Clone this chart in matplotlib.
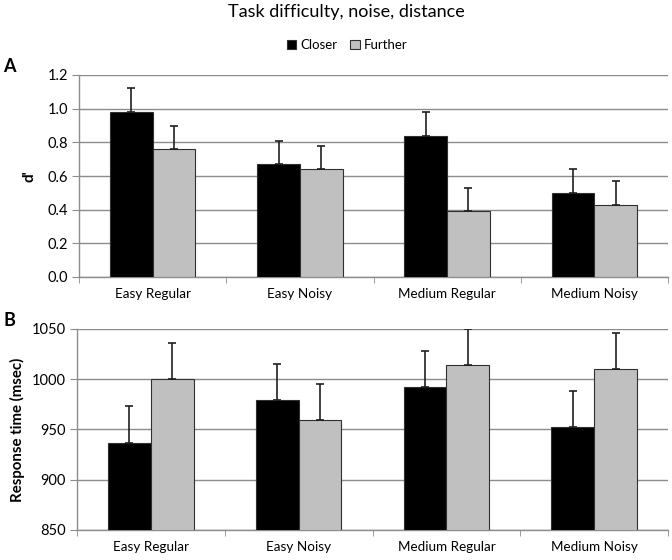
import matplotlib
matplotlib.use("Agg")
import matplotlib.pyplot as plt
import numpy as np

plt.rcParams['font.family'] = ['Lato', 'DejaVu Sans']

categories = ["Easy Regular", "Easy Noisy", "Medium Regular", "Medium Noisy"]
series = ["Closer", "Further"]

dprime_closer = [0.98, 0.67, 0.84, 0.50]
dprime_further = [0.76, 0.64, 0.39, 0.43]
dprime_err_closer = [0.14, 0.14, 0.14, 0.14]
dprime_err_further = [0.14, 0.14, 0.14, 0.14]

rt_closer = [937, 979, 992, 952]
rt_further = [1000, 959, 1014, 1010]
rt_err_closer = [36, 36, 36, 36]
rt_err_further = [36, 36, 36, 36]

colors = ["#000000", "#c0c0c0"]
grid_c = "#8c8c8c"

fig = plt.figure(figsize=(6.72, 5.6), dpi=100)
W, H = 672, 560

def axes_px(left, top, right, bottom):
    return fig.add_axes([left / W, 1 - bottom / H, (right - left) / W, (bottom - top) / H])

axA = axes_px(79, 75, 668, 277)
axB = axes_px(77, 329, 668, 530)

def draw(ax, c, f, ec, ef, ylim, yticks, fmt):
    x = np.arange(len(categories))
    w = 0.29
    ax.bar(x - w / 2, c, w, color=colors[0], edgecolor="#303030", linewidth=0.8, zorder=3,
           yerr=[np.zeros(len(c)), ec], error_kw=dict(ecolor="#202020", elinewidth=1.2, capsize=3, capthick=1.2, zorder=4),
           label=series[0])
    ax.bar(x + w / 2, f, w, color=colors[1], edgecolor="#303030", linewidth=0.8, zorder=3,
           yerr=[np.zeros(len(f)), ef], error_kw=dict(ecolor="#202020", elinewidth=1.2, capsize=3, capthick=1.2, zorder=4),
           label=series[1])
    ax.set_xlim(-0.5, len(categories) - 0.5)
    ax.set_ylim(*ylim)
    ax.set_yticks(yticks)
    ax.set_yticklabels([fmt.format(v) for v in yticks], fontsize=10.5)
    ax.yaxis.grid(True, color=grid_c, linewidth=1, zorder=0)
    ax.set_axisbelow(True)
    ax.set_xticks(x)
    ax.set_xticklabels(categories, fontsize=9.7)
    ax.tick_params(axis='x', length=0, pad=8)
    ax.set_xticks(np.arange(len(categories) + 1) - 0.5, minor=True)
    ax.tick_params(axis='x', which='minor', length=4, color=grid_c)
    ax.tick_params(axis='y', length=5, color=grid_c, pad=3)
    for s in ["top", "right"]:
        ax.spines[s].set_visible(False)
    for s in ["left", "bottom"]:
        ax.spines[s].set_color(grid_c)
        ax.spines[s].set_linewidth(1)

draw(axA, dprime_closer, dprime_further, dprime_err_closer, dprime_err_further,
     (0, 1.2), np.round(np.arange(0, 1.21, 0.2), 1), "{:.1f}")
draw(axB, rt_closer, rt_further, rt_err_closer, rt_err_further,
     (850, 1050), np.arange(850, 1051, 50), "{:.0f}")

axA.set_ylabel("d'", fontsize=11, fontweight='bold', labelpad=8)
axB.set_ylabel("Response time (msec)", fontsize=10.8, fontweight='bold', labelpad=5)

fig.text(346 / W, 1 - 12 / H, "Task difficulty, noise, distance", ha='center', va='center', fontsize=13)
handles, labels = axA.get_legend_handles_labels()
fig.legend(handles, labels, loc='center', bbox_to_anchor=(347 / W, 1 - 45 / H), ncol=2, frameon=False,
           fontsize=9.5, handlelength=0.7, handleheight=0.7, columnspacing=1.0, handletextpad=0.3)
fig.text(9 / W, 1 - 67 / H, "A", fontsize=13, fontweight='bold', ha='center', va='center')
fig.text(9 / W, 1 - 320 / H, "B", fontsize=13, fontweight='bold', ha='center', va='center')

fig.savefig("out.png", dpi=100)
